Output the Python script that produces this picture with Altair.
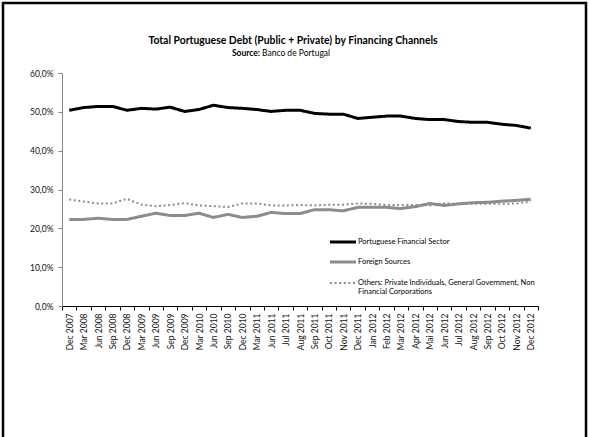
import altair as alt
import pandas as pd

categories = ["Dec 2007", "Mar 2008", "Jun 2008", "Sep 2008", "Dec 2008", "Mar 2009", "Jun 2009",
              "Sep 2009", "Dec 2009", "Mar 2010", "Jun 2010", "Sep 2010", "Dec 2010", "Mar 2011",
              "Jun 2011", "Jul 2011", "Aug 2011", "Sep 2011", "Oct 2011", "Nov 2011", "Dec 2011",
              "Jan 2012", "Feb 2012", "Mar 2012", "Apr 2012", "Mai 2012", "Jun 2012", "Jul 2012",
              "Aug 2012", "Sep 2012", "Oct 2012", "Nov 2012", "Dec 2012"]

portuguese_financial = [50.4, 51.1, 51.4, 51.4, 50.4, 50.9, 50.7, 51.2, 50.1, 50.6, 51.7, 51.1, 50.9,
                        50.6, 50.1, 50.4, 50.4, 49.6, 49.4, 49.4, 48.3, 48.6, 48.9, 48.9, 48.3, 48.0,
                        48.0, 47.5, 47.3, 47.3, 46.8, 46.5, 45.8]
foreign_sources = [22.3, 22.3, 22.6, 22.3, 22.3, 23.1, 23.9, 23.3, 23.3, 23.9, 22.8, 23.6, 22.8,
                   23.1, 24.1, 23.8, 23.8, 24.8, 24.8, 24.5, 25.4, 25.4, 25.4, 25.1, 25.6, 26.4,
                   25.9, 26.3, 26.6, 26.7, 27.0, 27.2, 27.5]
others = [27.4, 26.9, 26.4, 26.4, 27.6, 26.1, 25.7, 26.0, 26.5, 25.9, 25.7, 25.5, 26.4,
          26.4, 25.9, 25.9, 26.0, 25.9, 26.1, 26.1, 26.4, 26.3, 26.0, 26.0, 26.0, 25.9,
          26.4, 26.3, 26.3, 26.3, 26.3, 26.4, 26.9]

series_names = ["Portuguese Financial Sector", "Foreign Sources",
                "Others: Private Individuals, General Government, Non Financial Corporations"]
legend_texts = ["Portuguese Financial Sector", "Foreign Sources",
                "Others: Private Individuals, General Government, Non\nFinancial Corporations"]
title_text = "Total Portuguese Debt (Public + Private) by Financing Channels"
source_label = "Source:"
source_text = "Banco de Portugal"
y_ticks = [0, 10, 20, 30, 40, 50, 60]

rows = []
for name, vals in zip(series_names, [portuguese_financial, foreign_sources, others]):
    for c, v in zip(categories, vals):
        rows.append({"period": c, "series": name, "value": v})
df = pd.DataFrame(rows)

FONT = "Lato"
W, H = 476, 233

x_enc = alt.X("period:N", sort=categories, bandPosition=0.5,
              scale=alt.Scale(type="band", domain=categories, paddingInner=0, paddingOuter=0),
              axis=alt.Axis(title=None, labelAngle=-90, labelAlign="right", labelBaseline="middle",
                            labelFontSize=8.5, labelFont=FONT, labelColor="#111111", labelPadding=3,
                            tickBand="extent", tickSize=4, tickColor="#000000", domainColor="#000000",
                            domainWidth=1, labelOverlap=False))
y_enc = alt.Y("value:Q", scale=alt.Scale(domain=[0, 60], nice=False, zero=True),
              axis=alt.Axis(title=None, values=y_ticks, grid=False,
                            labelExpr="replace(format(datum.value, '.1f'), '.', ',') + '%'",
                            labelFontSize=8.5, labelFont=FONT, labelColor="#111111", labelPadding=5,
                            tickSize=4, tickColor="#868686", domainColor="#868686", domainWidth=1))

base = alt.Chart(df)
styles = [("#000000", 3, [1, 0]), ("#8c8c8c", 3, [1, 0]), ("#8c8c8c", 2, [2, 2.6])]

layers = []
for name, (col, sw, dash) in zip(series_names, styles):
    layers.append(
        base.transform_filter(alt.datum.series == name)
        .mark_line(color=col, strokeWidth=sw, strokeDash=dash, strokeJoin="round")
        .encode(x=x_enc, y=y_enc)
    )

one = pd.DataFrame({"k": [0]})

# outer border (chart area frame)
border = alt.Chart(one).mark_rect(fill=None, stroke="#000000", strokeWidth=2.5).encode(
    x=alt.value(-59), x2=alt.value(524), y=alt.value(-70), y2=alt.value(380))

title = alt.Chart(one).mark_text(font=FONT, fontSize=10.4, fontWeight="bold", align="center",
                                 baseline="middle", color="#000000").encode(
    x=alt.value(231), y=alt.value(-32), text=alt.value(title_text))
src1 = alt.Chart(one).mark_text(font=FONT, fontSize=8.5, fontWeight="bold", align="right",
                                baseline="middle", color="#000000").encode(
    x=alt.value(198), y=alt.value(-20.5), text=alt.value(source_label))
src2 = alt.Chart(one).mark_text(font=FONT, fontSize=8.5, align="left",
                                baseline="middle", color="#000000").encode(
    x=alt.value(200), y=alt.value(-20.5), text=alt.value(source_text))

legend_layers = []
leg_y = [169, 189, 210]
for (col, sw, dash), txt, ly in zip(styles, legend_texts, leg_y):
    legend_layers.append(
        alt.Chart(one).mark_rule(color=col, strokeWidth=sw, strokeDash=dash).encode(
            x=alt.value(268), x2=alt.value(294), y=alt.value(ly)))
    legend_layers.append(
        alt.Chart(one).mark_text(font=FONT, fontSize=7.5, align="left", baseline="top",
                                 lineBreak="\n", lineHeight=9.5, color="#000000").encode(
            x=alt.value(296), y=alt.value(ly - 4.5), text=alt.value(txt)))

chart = alt.layer(*layers, border, title, src1, src2, *legend_layers).properties(
    width=W, height=H,
    padding={"left": 62, "top": 73, "right": 51, "bottom": 131},
    autosize=alt.AutoSizeParams(type="none"),
    background="#ffffff",
).configure_view(stroke=None)

chart.save("out.html", embed_options={"renderer": "svg", "actions": False})
